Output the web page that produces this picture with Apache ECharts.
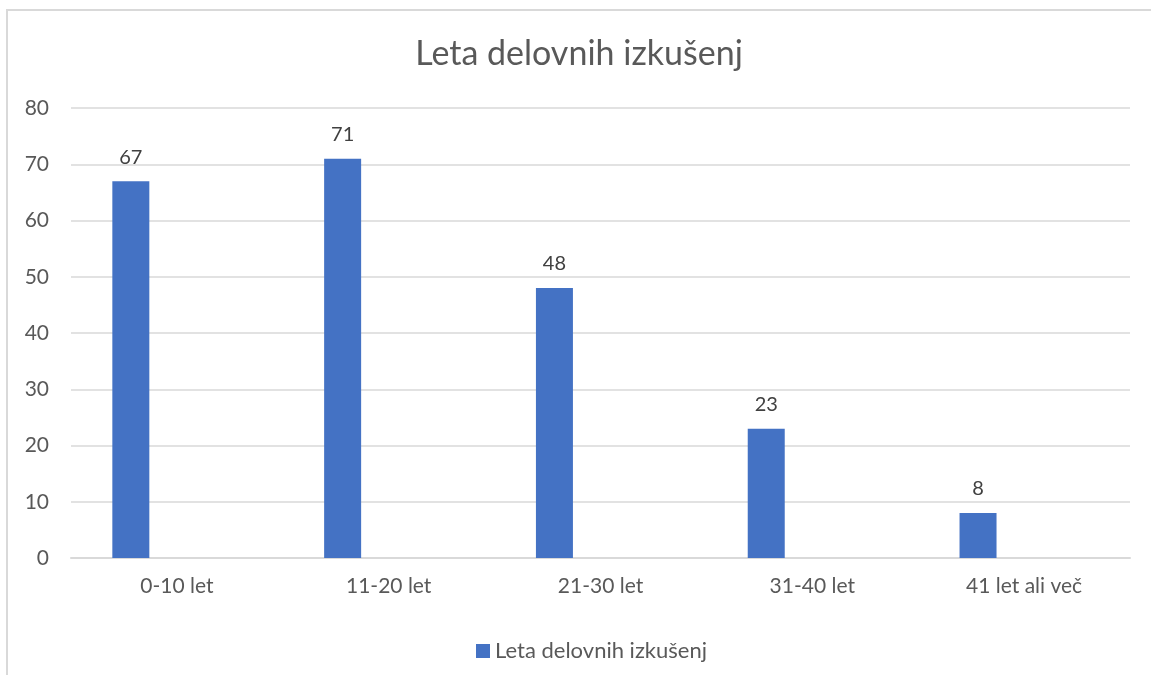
<!DOCTYPE html>
<html>
<head>
<meta charset="utf-8">
<script src="https://cdn.jsdelivr.net/npm/echarts@6/dist/echarts.min.js"></script>
<style>
    body { margin: 0; background: #fff; }
    #frame { position: absolute; left: 6px; top: 9px; right: 0; bottom: 0; border-top: 2px solid #d9d9d9; border-left: 2px solid #d9d9d9; }
    #chart { position: absolute; left: 7px; top: 10px; width: 1144px; height: 665px; }
</style>
</head>
<body>
<div id="frame"></div>
<div id="chart"></div>
<script>
// Leta delovnih izkušenj

var chartTitle = 'Leta delovnih izkušenj';
var categories = ['0-10 let', '11-20 let', '21-30 let', '31-40 let', '41 let ali več'];
var values = [67, 71, 48, 23, 8];
var yTicks = [0, 10, 20, 30, 40, 50, 60, 70, 80];

var font = 'Lato';
var chart = echarts.init(document.getElementById('chart'));
var option = {
    title: {
        text: chartTitle,
        left: 'center',
        top: 22,
        textStyle: {
            fontFamily: font,
            fontSize: 34,
            fontWeight: 'normal',
            color: '#595959'
        }
    },
    legend: {
        data: [chartTitle],
        left: 464,
        top: 625,
        itemWidth: 14,
        itemHeight: 14,
        icon: 'rect',
        textStyle: {
            fontFamily: font,
            fontSize: 22,
            color: '#595959'
        }
    },
    grid: {
        left: 64,
        right: 21,
        top: 98,
        bottom: 117
    },
    xAxis: {
        type: 'category',
        data: categories,
        axisLine: { lineStyle: { color: '#d9d9d9', width: 2 } },
        axisTick: { show: false },
        axisLabel: {
            fontFamily: font,
            fontSize: 21,
            color: '#595959',
            margin: 18
        }
    },
    yAxis: {
        type: 'value',
        min: yTicks[0],
        max: yTicks[yTicks.length - 1],
        interval: 10,
        axisLine: { show: false },
        axisTick: { show: false },
        splitLine: { lineStyle: { color: '#d9d9d9', width: 1.5 } },
        axisLabel: {
            fontFamily: font,
            fontSize: 21,
            color: '#595959',
            margin: 22
        }
    },
    series: [
        {
            name: chartTitle,
            type: 'bar',
            data: values,
            barWidth: 37,
            barGap: '149%',
            itemStyle: { color: '#4472C4' },
            label: {
                show: true,
                position: 'top',
                distance: 14,
                fontFamily: font,
                fontSize: 20,
                color: '#404040'
            }
        },
        {
            name: 'empty',
            type: 'bar',
            data: [],
            barWidth: 37
        }
    ]
};
chart.setOption(option);
</script>
</body>
</html>
